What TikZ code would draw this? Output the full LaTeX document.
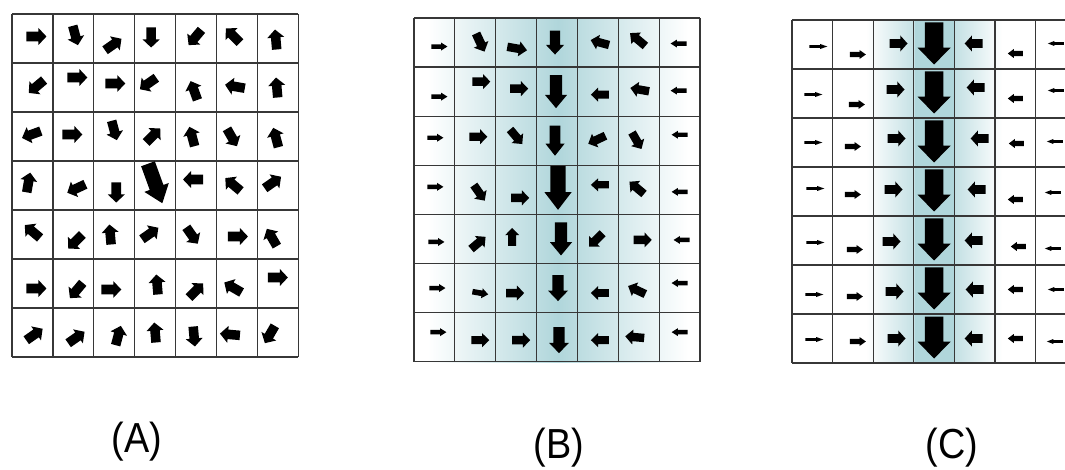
\documentclass[tikz,border=0pt]{standalone}
\usepackage{fontspec}
\setmainfont{Liberation Sans}

\definecolor{flowteal}{RGB}{176,214,219}
\definecolor{gridgray}{RGB}{55,55,55}

\begin{document}
\begin{tikzpicture}[
    x=1pt,
    y=-1pt,
    grid line/.style={
        draw=gridgray,
        line width=1.2pt
    },
    flow arrow/.style={
        fill=black,
        draw=none
    },
    panel label/.style={
        font=\fontsize{42}{42}\selectfont,
        anchor=base,
        inner sep=0pt
    }
]

%% arrow: x, y, angle, length, width
\def\flowarrow#1#2#3#4#5{%
    \fill[flow arrow, shift={({#1},{#2})}, rotate=#3]
        ({-0.5*#4pt},{-0.28*#5pt}) -- ({0.1*#4pt},{-0.28*#5pt})
        -- ({0.1*#4pt},{-0.5*#5pt}) -- ({0.5*#4pt},0pt)
        -- ({0.1*#4pt},{0.5*#5pt}) -- ({0.1*#4pt},{0.28*#5pt})
        -- ({-0.5*#4pt},{0.28*#5pt}) -- cycle;}

%% grid: x0, y0, cell width, cell height
\def\flowgrid#1#2#3#4{%
    \foreach \i in {0,...,7} {
        \draw[grid line] ({#1+\i*#3},{#2}) -- ({#1+\i*#3},{#2+7*#4});
        \draw[grid line] ({#1},{#2+\i*#4}) -- ({#1+7*#3},{#2+\i*#4});
    }}

\useasboundingbox (0,0) rectangle (1065,470);
\clip (0,0) rectangle (1065,470);

%% --- Shading ---
\shade[left color=white, right color=white, middle color=flowteal] (428,18) rectangle (688,362);
\shade[left color=white, right color=flowteal!75] (866,20) rectangle (915,363);
\fill[flowteal] (915,20) rectangle (955,363);
\shade[left color=flowteal!75, right color=white] (955,20) rectangle (1002,363);

%% --- Grids ---
\flowgrid{12}{14}{40.9}{49}
\flowgrid{414}{18}{40.86}{49.1}
\flowgrid{792}{20}{40.6}{49}

%% --- (A) random ---
\foreach \c/\r/\a/\l/\w/\dx/\dy in {
    1/1/0/20/17/4/-2, 2/1/-75/20/17/2/-3, 3/1/35/20/17/-1/6, 4/1/-90/20/17/-4/-1,
    5/1/-130/20/17/-1/-1, 6/1/135/20/17/-4/-3, 7/1/95/20/17/-2/1,
    1/2/-140/20/17/4/-1, 2/2/0/20/17/4/-10, 3/2/0/20/17/1/-4, 4/2/-145/20/17/-7/-4,
    5/2/110/20/17/-2/3, 6/2/170/20/17/-2/-1, 7/2/95/20/17/-1/0,
    1/3/-160/20/17/-1/-2, 2/3/0/20/17/-1/-2, 3/3/-75/20/17/0/-6, 4/3/45/20/17/-2/-1,
    5/3/105/20/17/-4/0, 6/3/-60/20/17/-5/1, 7/3/105/20/17/-2/1,
    1/4/80/20/17/-4/-3, 2/4/-155/20/17/3/3, 3/4/-90/20/17/2/7, 4/4/-70/42/26/0/-2,
    5/4/180/20/17/-3/-6, 6/4/140/20/17/-4/-1, 7/4/35/20/17/-5/-3,
    1/5/140/20/17/0/-3, 2/5/-135/20/17/2/7, 3/5/95/20/17/-4/0, 4/5/35/20/17/-5/-1,
    5/5/-55/20/17/-4/1, 6/5/0/20/17/1/2, 7/5/120/20/17/-6/3,
    1/6/0/20/17/4/5, 2/6/-130/20/17/3/7, 3/6/0/20/17/-3/6, 4/6/95/20/17/2/1,
    5/6/45/20/17/0/7, 6/6/150/20/17/-4/4, 7/6/0/20/17/0/-6,
    1/7/35/20/17/2/2, 2/7/35/20/17/3/5, 3/7/75/20/17/4/3, 4/7/95/20/17/0/0,
    5/7/-85/20/17/-2/4, 6/7/175/20/17/-7/2, 7/7/-120/20/17/-8/2}
    {\flowarrow{12+40.9*(\c-0.5)+\dx}{14+49*(\r-0.5)+\dy}{\a}{\l}{\w}}

%% --- (B) partly aligned ---
\foreach \c/\r/\a/\l/\w/\dx/\dy in {
    1/1/0/16/8/5/4, 2/1/-65/20/16/5/0, 3/1/-10/20/15/1/6, 4/1/-90/24/18/-2/0,
    5/1/165/19/15/2/0, 6/1/140/20/15/-1/-3, 7/1/180/16/8/-1/1,
    1/2/0/16/8/5/5, 2/2/0/18/15/6/-10, 3/2/0/18/15/3/-3, 4/2/-90/33/22/-1/0,
    5/2/180/18/14/2/3, 6/2/170/19/15/1/-2, 7/2/180/16/8/-1/-1,
    1/3/0/16/8/1/-3, 2/3/0/18/15/3/-4, 3/3/-50/19/15/0/-4, 4/3/-90/30/19/-2/0,
    5/3/-155/19/15/-1/-1, 6/3/-60/19/15/-2/0, 7/3/180/16/8/0/-6,
    1/4/0/16/8/1/-3, 2/4/-55/19/15/4/3, 3/4/0/18/15/4/8, 4/4/-90/44/27/1/-2,
    5/4/180/18/13/2/-5, 6/4/140/19/15/-2/-2, 7/4/180/16/8/0/2,
    1/5/0/16/8/2/3, 2/5/40/19/15/3/4, 3/5/90/18/14/-4/-2, 4/5/-90/33/22/4/0,
    5/5/-135/19/15/-2/1, 6/5/0/18/15/4/1, 7/5/180/16/8/2/1,
    1/6/0/16/8/3/0, 2/6/-10/16/10/5/5, 3/6/0/18/15/-1/5, 4/6/-90/26/20/1/0,
    5/6/180/18/14/2/5, 6/6/155/19/15/-2/2, 7/6/180/16/8/0/-5,
    1/7/0/16/8/4/-5, 2/7/0/18/14/5/3, 3/7/0/18/15/5/3, 4/7/-90/26/20/2/3,
    5/7/180/18/14/2/3, 6/7/175/19/15/-4/0, 7/7/180/16/8/0/-5}
    {\flowarrow{414+40.86*(\c-0.5)+\dx}{18+49.1*(\r-0.5)+\dy}{\a}{\l}{\w}}

%% --- (C) aligned ---
\foreach \c/\r/\a/\l/\w/\dx/\dy in {
    1/1/0/18/5/6/2, 1/2/0/18/5/1/1, 1/3/0/18/5/1/0, 1/4/0/18/5/3/-3,
    1/5/0/18/5/3/2, 1/6/0/18/5/2/5, 1/7/0/18/5/2/1,
    2/1/0/16/9/5/10, 2/2/0/16/9/4/11, 2/3/0/16/9/0/4, 2/4/0/16/9/0/3,
    2/5/0/16/9/2/9, 2/6/0/16/9/2/7, 2/7/0/16/9/5/3,
    3/1/0/18/16/5/-1, 3/2/0/18/16/2/-4, 3/3/0/18/16/3/-4, 3/4/0/18/16/0/-2,
    3/5/0/18/16/-2/1, 3/6/0/18/16/1/2, 3/7/0/18/16/3/0,
    4/1/-90/42/33/0/-1, 4/2/-90/42/33/0/-1, 4/3/-90/42/33/0/-1, 4/4/-90/42/33/0/-1,
    4/5/-90/42/33/0/-1, 4/6/-90/42/33/0/-1, 4/7/-90/42/33/0/-1,
    5/1/180/18/16/-1/-1, 5/2/180/18/16/1/-6, 5/3/180/18/16/5/-4, 5/4/180/18/16/2/-2,
    5/5/180/18/16/-1/0, 5/6/180/18/16/0/0, 5/7/180/18/16/-1/0,
    6/1/180/15/9/0/9, 6/2/180/15/9/0/5, 6/3/180/15/9/1/1, 6/4/180/15/9/0/8,
    6/5/180/15/9/3/6, 6/6/180/15/9/0/0, 6/7/180/15/9/0/0,
    7/1/180/16/5/0/-1, 7/2/180/16/5/0/-3, 7/3/180/16/5/-1/-1, 7/4/180/16/5/-3/1,
    7/5/180/16/5/-3/8, 7/6/180/16/5/0/0, 7/7/180/16/5/-1/3}
    {\flowarrow{792+40.6*(\c-0.5)+\dx}{20+49*(\r-0.5)+\dy}{\a}{\l}{\w}}

%% --- Labels ---
\node[panel label] (labelA) at (137,452) {\scalebox{0.9}[1]{(A)}};
\node[panel label] (labelB) at (559,458) {\scalebox{0.9}[1]{(B)}};
\node[panel label] (labelC) at (952,458) {\scalebox{0.9}[1]{(C)}};

\end{tikzpicture}
\end{document}
